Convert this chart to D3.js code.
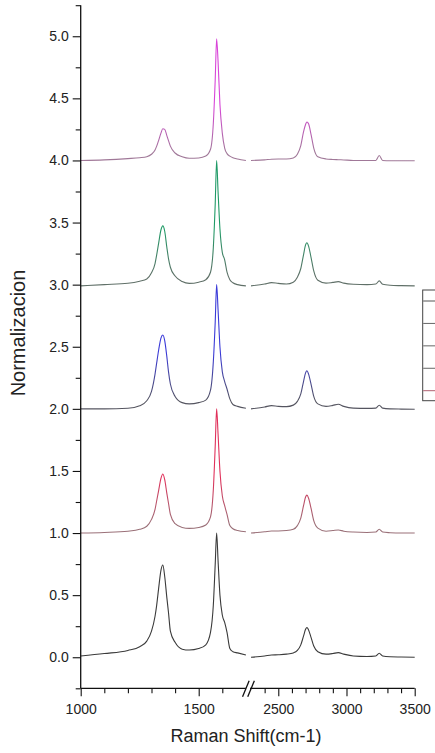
<!DOCTYPE html>
<html><head><meta charset="utf-8">
<script src="https://cdn.jsdelivr.net/npm/d3@7"></script>
<style>html,body{margin:0;padding:0;background:#fff;} svg{display:block;font-family:"Liberation Sans",Arial,sans-serif;}</style>
</head><body><svg id="c" width="435" height="753"></svg>
<script>
// ---- data ----
const shiftLeft  = [1000,1100,1200,1250,1280,1300,1315,1322,1330,1340,1348,1356,1365,1372,1380,1400,1430,1460,1500,1530,1550,1562,1570,1576,1582,1590,1600,1610,1620,1632,1645,1665,1700];
const shiftRight = [2300,2400,2450,2500,2560,2610,2640,2665,2685,2700,2710,2722,2740,2760,2790,2850,2900,2940,2980,3050,3150,3215,3240,3265,3320,3400,3500];

const s0Left  = [0.01,0.03,0.055,0.085,0.13,0.21,0.33,0.42,0.55,0.70,0.743,0.65,0.48,0.36,0.21,0.12,0.065,0.058,0.07,0.10,0.20,0.42,0.75,1.0,0.78,0.50,0.34,0.28,0.20,0.07,0.045,0.035,0.018];
const s0Right = [0.0,0.01,0.018,0.02,0.025,0.035,0.055,0.10,0.17,0.225,0.24,0.22,0.16,0.09,0.045,0.025,0.03,0.037,0.025,0.01,0.006,0.01,0.032,0.01,0.004,0.002,0.0];

const s1Left  = [1.0,1.005,1.015,1.03,1.055,1.11,1.19,1.26,1.34,1.44,1.476,1.43,1.32,1.24,1.15,1.075,1.045,1.038,1.045,1.065,1.13,1.35,1.7,2.0,1.8,1.5,1.3,1.22,1.15,1.06,1.035,1.02,1.01];
const s1Right = [1.0,1.01,1.017,1.017,1.02,1.03,1.06,1.12,1.22,1.29,1.305,1.28,1.2,1.1,1.04,1.015,1.02,1.025,1.015,1.008,1.005,1.008,1.03,1.008,1.003,1.0,1.0];

const s2Left  = [2.0,2.0,2.005,2.025,2.065,2.14,2.28,2.37,2.47,2.57,2.595,2.55,2.42,2.3,2.2,2.1,2.05,2.04,2.05,2.07,2.15,2.38,2.7,3.0,2.8,2.5,2.3,2.22,2.16,2.08,2.035,2.02,2.005];
const s2Right = [2.0,2.015,2.026,2.02,2.018,2.03,2.06,2.12,2.22,2.29,2.307,2.28,2.2,2.1,2.04,2.02,2.028,2.037,2.02,2.006,2.004,2.006,2.029,2.006,2.0,1.998,1.997];

const s3Left  = [2.99,3.0,3.011,3.028,3.045,3.095,3.17,3.24,3.33,3.44,3.473,3.43,3.3,3.21,3.14,3.07,3.025,3.01,3.02,3.04,3.1,3.3,3.65,4.0,3.75,3.45,3.26,3.2,3.1,3.04,3.015,3.0,2.99];
const s3Right = [2.99,3.005,3.016,3.01,3.005,3.02,3.06,3.13,3.24,3.32,3.337,3.31,3.22,3.11,3.035,3.012,3.018,3.024,3.012,3.003,3.0,3.005,3.03,3.003,2.995,2.992,2.99];

const s4Left  = [4.0,4.005,4.015,4.022,4.03,4.05,4.085,4.115,4.16,4.22,4.255,4.25,4.2,4.16,4.115,4.06,4.03,4.018,4.02,4.035,4.09,4.3,4.65,4.98,4.8,4.45,4.22,4.1,4.055,4.035,4.022,4.012,4.0];
const s4Right = [4.0,4.005,4.01,4.012,4.012,4.02,4.05,4.12,4.23,4.29,4.31,4.295,4.21,4.1,4.03,4.012,4.008,4.006,4.004,4.0,3.999,4.0,4.04,4.0,3.998,3.998,3.998];

const seriesOffsets = [0,1,2,3,4];
const seriesColors  = ["#3a3a3a","#e0305a","#3a3ad8","#1f9a66","#d844d8"];
const baseColors    = ["#3a3a3a","#9a7078","#555560","#607068","#a07898"];

const yMajor = [0,0.5,1,1.5,2,2.5,3,3.5,4,4.5,5];
const yMinor = [-0.25,0.25,0.75,1.25,1.75,2.25,2.75,3.25,3.75,4.25,4.75,5.25];
const xLeftMajor  = [1000,1500];
const xLeftMinor  = [1100,1200,1300,1400,1600];
const xRightMajor = [2500,3000,3500];
const xRightMinor = [2400,2600,2700,2800,2900,3100,3200,3300,3400];

const legendRowColors = ["#555","#666","#666","#666","#b06070"];

// ---- drawing ----
const svg = d3.select("#c");
const y  = d3.scaleLinear().domain([-0.25,5.25]).range([688.3,5.2]);
const xL = d3.scaleLinear().domain([1000,1700]).range([80.7,245.9]);
const xR = d3.scaleLinear().domain([2300,3500]).range([251,414.7]);

const leftSets  = [s0Left,s1Left,s2Left,s3Left,s4Left];
const rightSets = [s0Right,s1Right,s2Right,s3Right,s4Right];

const defs = svg.append("defs");
seriesOffsets.forEach((off,i)=>{
  const g = defs.append("linearGradient").attr("id","g"+i)
    .attr("gradientUnits","userSpaceOnUse")
    .attr("x1",0).attr("x2",0).attr("y1",y(off+0.06)).attr("y2",y(off+0.45));
  g.append("stop").attr("offset",0).attr("stop-color",baseColors[i]);
  g.append("stop").attr("offset",1).attr("stop-color",seriesColors[i]);
});

const lineL = d3.line().x(d=>xL(d[0])).y(d=>y(d[1])).curve(d3.curveMonotoneX);
const lineR = d3.line().x(d=>xR(d[0])).y(d=>y(d[1])).curve(d3.curveMonotoneX);

seriesOffsets.forEach((off,i)=>{
  svg.append("path").datum(shiftLeft.map((w,k)=>[w,leftSets[i][k]]))
    .attr("d",lineL).attr("fill","none").attr("stroke","url(#g"+i+")").attr("stroke-width",1.1);
  svg.append("path").datum(shiftRight.map((w,k)=>[w,rightSets[i][k]]))
    .attr("d",lineR).attr("fill","none").attr("stroke","url(#g"+i+")").attr("stroke-width",1.1);
});

const axisColor = "#111";
const fmt = d3.format(".1f");

// Y axis
const yAx = svg.append("g").attr("transform","translate(80.7,0)")
  .call(d3.axisLeft(y).tickValues(yMajor).tickFormat(fmt).tickSize(8).tickPadding(4));
svg.append("g").attr("transform","translate(80.7,0)")
  .call(d3.axisLeft(y).tickValues(yMinor).tickFormat("").tickSize(5))
  .select(".domain").remove();

// X axes
const xAxL = svg.append("g").attr("transform","translate(0,688.3)")
  .call(d3.axisBottom(xL).tickValues(xLeftMajor).tickFormat(d3.format("d")).tickSize(8).tickPadding(7.8));
svg.append("g").attr("transform","translate(0,688.3)")
  .call(d3.axisBottom(xL).tickValues(xLeftMinor).tickFormat("").tickSize(5))
  .select(".domain").remove();
const xAxR = svg.append("g").attr("transform","translate(0,688.3)")
  .call(d3.axisBottom(xR).tickValues(xRightMajor).tickFormat(d3.format("d")).tickSize(8).tickPadding(7.8));
svg.append("g").attr("transform","translate(0,688.3)")
  .call(d3.axisBottom(xR).tickValues(xRightMinor).tickFormat("").tickSize(5))
  .select(".domain").remove();

svg.selectAll(".domain").attr("stroke",axisColor).attr("stroke-width",1.3);
svg.selectAll(".tick line").attr("stroke",axisColor).attr("stroke-width",1.1);
svg.selectAll(".tick text").attr("font-size",14).attr("fill","#222")
  .attr("font-family","'Liberation Sans',Arial,sans-serif");

[yAx,xAxL,xAxR].forEach(g=>{
  const dom = g.select(".domain");
  const isY = g===yAx;
  const r = isY ? y.range() : (g===xAxL ? xL.range() : xR.range());
  if(isY) dom.attr("d",`M0,${r[0]}V${r[1]}`);
  else dom.attr("d",`M${r[0]},0H${r[1]}`);
});
xAxR.select(".domain").attr("d",`M${xR.range()[0]-1},0H${xR.range()[1]}`);

// axis break marks
const bx = (xL.range()[1]+xR.range()[0])/2;
[-2.6,2.6].forEach(dx=>{
  svg.append("line")
    .attr("x1",bx+dx-3.3).attr("y1",688.3+8.5)
    .attr("x2",bx+dx+3.3).attr("y2",688.3-7.5)
    .attr("stroke",axisColor).attr("stroke-width",1.3);
});

// titles
svg.append("text").attr("x",246).attr("y",741.7).attr("text-anchor","middle")
  .attr("font-size",18).attr("fill","#222").text("Raman Shift(cm-1)");
svg.append("text").attr("transform","translate(25,333) rotate(-90)").attr("text-anchor","middle")
  .attr("font-size",20).attr("fill","#222").text("Normalizacion");

// clipped legend box at right edge
svg.append("rect").attr("x",422.7).attr("y",290).attr("width",30).attr("height",110.7)
  .attr("fill","#fff").attr("stroke","#444").attr("stroke-width",1);
const legY = d3.scalePoint().domain(d3.range(legendRowColors.length)).range([301,390.7]);
legendRowColors.forEach((c,i)=>{
  svg.append("line").attr("x1",423.2).attr("x2",435).attr("y1",legY(i)).attr("y2",legY(i))
    .attr("stroke",c).attr("stroke-width",1);
});
</script></body></html>
